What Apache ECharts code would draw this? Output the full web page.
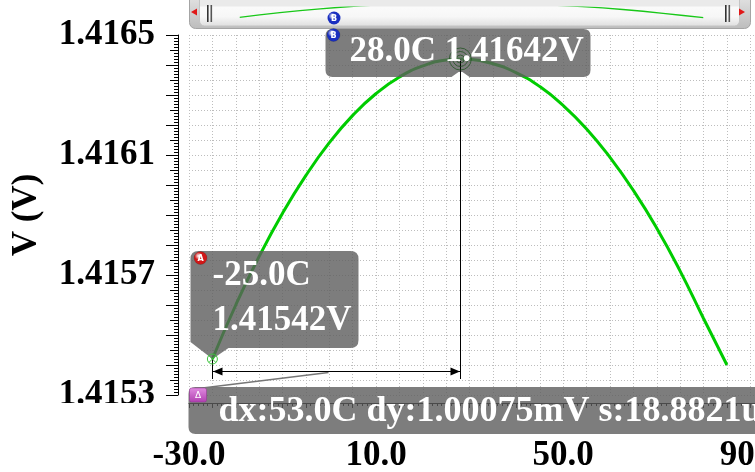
<!DOCTYPE html>
<html><head><meta charset="utf-8">
<script src="https://cdn.jsdelivr.net/npm/echarts@6/dist/echarts.min.js"></script>
<style>html,body{margin:0;padding:0;background:#fff}#c{width:755px;height:472px}</style>
</head><body><div id="c"></div>
<script>
// ---- data ----
const temps = [-25, -20, -15, -10, -5, 0, 5, 10, 15, 20, 25, 28, 30, 35, 40, 45, 50, 55, 60, 65, 70, 75, 80, 85];
const volts = [1.415420, 1.415600, 1.415762, 1.415906, 1.416032, 1.416141, 1.416232, 1.416305, 1.416360, 1.416397, 1.416417, 1.416420,
               1.416419, 1.416404, 1.416374, 1.416328, 1.416265, 1.416187, 1.416092, 1.415982, 1.415856, 1.415713, 1.415555, 1.415400];
const xTickLabels = [-30, 10, 50, 90];
const yTickLabels = [1.4153, 1.4157, 1.4161, 1.4165];
const markerNames = ['A', 'B'];
const markerTemps = [-25.0, 28.0];
const markerVolts = [1.41542, 1.41642];
const markerTextA = ['-25.0C', '1.41542V'];
const markerTextB = '28.0C 1.41642V';
const deltaText = 'dx:53.0C dy:1.00075mV s:18.8821u';
const yTitle = 'V (V)';

const FONT = '"Liberation Serif", "Times New Roman", serif';
const chart = echarts.init(document.getElementById('c'), null, {renderer: 'canvas'});

const curve = temps.map((t, i) => [t, volts[i]]);

function roundRectPath(x0, y0, x1, y1, r, bottomInsert) {
  let p = `M${x0 + r} ${y0} L${x1 - r} ${y0} Q${x1} ${y0} ${x1} ${y0 + r} L${x1} ${y1 - r} Q${x1} ${y1} ${x1 - r} ${y1} `;
  p += bottomInsert ? bottomInsert : '';
  p += `L${x0 + r} ${y1} Q${x0} ${y1} ${x0} ${y1 - r} L${x0} ${y0 + r} Q${x0} ${y0} ${x0 + r} ${y0} Z`;
  return p;
}

function badge(cx, cy, color, letter) {
  return [
    {type: 'circle', shape: {cx: cx, cy: cy, r: 6.5}, style: {fill: {type: 'radial', x: 0.35, y: 0.35, r: 0.8, colorStops: [{offset: 0, color: '#ffffff'}, {offset: 0.35, color: color}, {offset: 1, color: color}]}, stroke: 'rgba(0,0,0,0.3)', lineWidth: 0.5}},
    {type: 'text', style: {x: cx, y: cy + 0.5, text: letter, fill: '#fff', fontSize: 8, fontWeight: 'bold', fontFamily: 'DejaVu Sans', align: 'center', verticalAlign: 'middle'}}
  ];
}

function renderAnnot(params, api) {
  const a = api.coord([api.value(0), api.value(1)]);
  const b = api.coord([api.value(2), api.value(3)]);
  const ax = Math.round(a[0]) + 0.5, ay = a[1];
  const bx = Math.round(b[0]) + 0.5, by = b[1];
  const boxFill = 'rgba(92,92,92,0.8)';
  const ch = [];
  const arrowY = Math.round(ay + 12) + 0.5;

  // A box with tail pointing to marker A
  const ax0 = ax - 22, ay0 = ay - 108, ax1 = ax + 146, ay1 = ay - 11;
  const aPath = `M${ax0 + 8} ${ay0} L${ax1 - 8} ${ay0} Q${ax1} ${ay0} ${ax1} ${ay0 + 8} L${ax1} ${ay1 - 8} Q${ax1} ${ay1} ${ax1 - 8} ${ay1} L${ax + 16} ${ay1} L${ax} ${ay} L${ax0} ${ay1 - 6} L${ax0} ${ay0 + 8} Q${ax0} ${ay0} ${ax0 + 8} ${ay0} Z`;
  ch.push({type: 'path', shape: {pathData: aPath}, style: {fill: boxFill}});

  // B box with notch
  const bx0 = bx - 135, by0 = by - 30, bx1 = bx + 130, by1 = by + 18;
  const notch = `L${bx + 9} ${by1} L${bx + 2} ${by1 - 5} L${bx - 2} ${by1 - 5} L${bx - 9} ${by1} `;
  ch.push({type: 'path', shape: {pathData: roundRectPath(bx0, by0, bx1, by1, 7, notch)}, style: {fill: boxFill}});

  // delta box
  const dx0 = ax - 24, dy0 = ay + 28, dx1 = ax + 600, dy1 = ay + 75;
  ch.push({type: 'path', shape: {pathData: roundRectPath(dx0, dy0, dx1, dy1, 7)}, style: {fill: boxFill}});

  // pointer line from delta box to arrow
  ch.push({type: 'line', shape: {x1: ax - 10, y1: dy0 + 1, x2: (ax + bx) / 2 - 8, y2: arrowY + 1}, style: {stroke: '#777', lineWidth: 1.5}});

  // measurement lines
  ch.push({type: 'line', shape: {x1: bx, y1: by, x2: bx, y2: ay + 20}, style: {stroke: '#000', lineWidth: 1}});
  ch.push({type: 'line', shape: {x1: ax, y1: ay, x2: ax, y2: ay + 20}, style: {stroke: '#000', lineWidth: 1}});
  ch.push({type: 'line', shape: {x1: ax, y1: arrowY, x2: bx, y2: arrowY}, style: {stroke: '#000', lineWidth: 1}});
  ch.push({type: 'polygon', shape: {points: [[ax + 0.5, arrowY], [ax + 10, arrowY - 4], [ax + 10, arrowY + 4]]}, style: {fill: '#000'}});
  ch.push({type: 'polygon', shape: {points: [[bx - 0.5, arrowY], [bx - 10, arrowY - 4], [bx - 10, arrowY + 4]]}, style: {fill: '#000'}});

  // marker A: circle with cross
  ch.push({type: 'circle', shape: {cx: a[0], cy: ay, r: 5}, style: {fill: 'rgba(0,0,0,0)', stroke: '#3cc43c', lineWidth: 1}});
  ch.push({type: 'line', shape: {x1: a[0] - 3.5, y1: ay - 3.5, x2: a[0] + 3.5, y2: ay + 3.5}, style: {stroke: '#3cc43c', lineWidth: 1}});
  ch.push({type: 'line', shape: {x1: a[0] - 3.5, y1: ay + 3.5, x2: a[0] + 3.5, y2: ay - 3.5}, style: {stroke: '#3cc43c', lineWidth: 1}});

  // marker B: concentric rings
  [4, 7.5, 11].forEach(r => ch.push({type: 'circle', shape: {cx: b[0], cy: by, r: r}, style: {fill: 'rgba(0,0,0,0)', stroke: 'rgba(30,80,30,0.75)', lineWidth: 1}}));

  // texts
  const ts = {fill: '#fff', fontSize: 35, fontWeight: 'bold', fontFamily: FONT, verticalAlign: 'middle', align: 'left'};
  ch.push({type: 'text', style: Object.assign({x: ax, y: ay - 83, text: markerTextA[0]}, ts)});
  ch.push({type: 'text', style: Object.assign({x: ax, y: ay - 38, text: markerTextA[1]}, ts)});
  ch.push({type: 'text', style: Object.assign({x: bx - 111, y: by - 7, text: markerTextB}, ts)});
  ch.push({type: 'text', style: Object.assign({}, ts, {x: ax + 6, y: dy0 + 25, text: deltaText, fontSize: 36})});

  // badges
  badge(ax - 12, ay - 101, '#d01818', markerNames[0]).forEach(e => ch.push(e));
  badge(bx - 127, by - 24, '#1a2fc0', markerNames[1]).forEach(e => ch.push(e));
  // delta badge
  ch.push({type: 'rect', shape: {x: dx0 + 1, y: dy0 + 1, width: 17, height: 14, r: 2}, style: {fill: {type: 'linear', x: 0, y: 0, x2: 0, y2: 1, colorStops: [{offset: 0, color: '#e08ae0'}, {offset: 1, color: '#b040b0'}]}, stroke: '#903090', lineWidth: 0.5}});
  ch.push({type: 'text', style: {x: dx0 + 9.5, y: dy0 + 8.5, text: '\u0394', fill: '#fff', fontSize: 9, fontFamily: 'DejaVu Sans', align: 'center', verticalAlign: 'middle'}});

  return {type: 'group', children: ch};
}

const gridColor = '#bdbdbd';
const option = {
  animation: false,
  backgroundColor: '#ffffff',
  grid: {left: 189, right: 0, top: 35, bottom: 77, containLabel: false, outerBoundsMode: 'none'},
  xAxis: [{
    type: 'value', min: -30, max: 91, interval: 5, position: 'bottom', offset: 8,
    axisLine: {show: true, onZero: false, lineStyle: {color: '#000', width: 1}},
    axisTick: {show: true, length: 5, lineStyle: {color: '#000'}},
    minorTick: {show: true, splitNumber: 5, length: 3, lineStyle: {color: '#000'}},
    splitLine: {show: true, lineStyle: {color: gridColor, type: [1, 2], width: 1}},
    axisLabel: {
      margin: 35, color: '#000', fontSize: 35, fontWeight: 'bold', fontFamily: FONT,
      showMinLabel: true, showMaxLabel: true,
      formatter: function (v) {
        const r = Math.round(v);
        return (Math.abs(v - r) < 1e-6 && xTickLabels.indexOf(r) >= 0) ? r.toFixed(1) : '';
      }
    }
  }],
  yAxis: [{
    type: 'value', min: 1.4153, max: 1.4165, interval: 0.00005, position: 'left', offset: 11,
    name: yTitle, nameLocation: 'middle', nameRotate: 90, nameGap: 134,
    nameTextStyle: {color: '#000', fontSize: 35, fontWeight: 'bold', fontFamily: FONT},
    axisLine: {show: true, onZero: false, lineStyle: {color: '#000', width: 1}},
    axisTick: {show: true, length: 8, lineStyle: {color: '#000'}},
    minorTick: {show: true, splitNumber: 5, length: 4, lineStyle: {color: '#000'}},
    splitLine: {show: true, lineStyle: {color: gridColor, type: [1, 2], width: 1}},
    axisLabel: {
      margin: 23, color: '#000', fontSize: 35, fontWeight: 'bold', fontFamily: FONT,
      showMinLabel: true, showMaxLabel: true,
      formatter: function (v) {
        const k = Math.round(v * 1e5);
        return yTickLabels.some(t => Math.round(t * 1e5) === k) ? v.toFixed(4) : '';
      }
    }
  }, {
    type: 'value', min: 1.4153, max: 1.4165, interval: 0.0001, position: 'left', offset: 11,
    axisLine: {show: false, onZero: false}, axisLabel: {show: false}, splitLine: {show: false},
    axisTick: {show: true, length: 12, lineStyle: {color: '#000'}}
  }],
  dataZoom: [{
    type: 'slider', xAxisIndex: 0, filterMode: 'none', start: 0, end: 100, zoomLock: true,
    left: 237, right: 54, top: -1, height: 23,
    showDetail: false, brushSelect: false, realtime: false,
    backgroundColor: 'rgba(0,0,0,0)', borderColor: 'rgba(0,0,0,0)', fillerColor: 'rgba(0,0,0,0)',
    handleSize: 0, handleStyle: {opacity: 0}, moveHandleSize: 0, moveHandleStyle: {opacity: 0},
    dataBackground: {lineStyle: {color: '#19c819', width: 1.3, opacity: 1}, areaStyle: {opacity: 0}},
    selectedDataBackground: {lineStyle: {color: '#19c819', width: 1.3, opacity: 1}, areaStyle: {opacity: 0}},
    emphasis: {handleStyle: {opacity: 0}, moveHandleStyle: {opacity: 0}}
  }],
  graphic: [
    {type: 'rect', z: 1, silent: true, shape: {x: 189.5, y: -6, width: 561, height: 34.5, r: 6},
     style: {fill: {type: 'linear', x: 0, y: 0, x2: 0, y2: 1, colorStops: [{offset: 0, color: '#e6e6e6'}, {offset: 1, color: '#bcbcbc'}]}, stroke: '#a4a4a4', lineWidth: 1}},
    {type: 'rect', z: 2, silent: true, shape: {x: 199.5, y: -6, width: 540, height: 32, r: 5},
     style: {fill: {type: 'linear', x: 0, y: 0, x2: 0, y2: 1, colorStops: [{offset: 0, color: '#ffffff'}, {offset: 0.7, color: '#f7f7f7'}, {offset: 1, color: '#dedede'}]}, stroke: '#c4c4c4', lineWidth: 1}},
    {type: 'rect', z: 10, silent: true, shape: {x: 200, y: -6, width: 539, height: 12.6},
     style: {fill: '#eaeaea'}},
    {type: 'rect', z: 11, silent: true, shape: {x: 207, y: 5, width: 1.6, height: 17}, style: {fill: '#333'}},
    {type: 'rect', z: 11, silent: true, shape: {x: 210.5, y: 5, width: 1.6, height: 17}, style: {fill: '#555'}},
    {type: 'rect', z: 11, silent: true, shape: {x: 725, y: 5, width: 1.6, height: 17}, style: {fill: '#333'}},
    {type: 'rect', z: 11, silent: true, shape: {x: 728.5, y: 5, width: 1.6, height: 17}, style: {fill: '#555'}},
    {type: 'polygon', z: 11, silent: true, shape: {points: [[191, 12], [197, 8.5], [197, 15.5]]}, style: {fill: '#e01818'}},
    {type: 'polygon', z: 11, silent: true, shape: {points: [[745, 12], [739, 8.5], [739, 15.5]]}, style: {fill: '#e01818'}},
    {type: 'circle', z: 12, silent: true, shape: {cx: 334, cy: 18, r: 6.5},
     style: {fill: {type: 'radial', x: 0.35, y: 0.35, r: 0.8, colorStops: [{offset: 0, color: '#ffffff'}, {offset: 0.35, color: '#1a2fc0'}, {offset: 1, color: '#1a2fc0'}]}}},
    {type: 'text', z: 13, silent: true, style: {x: 334, y: 18.5, text: 'B', fill: '#fff', fontSize: 8, fontWeight: 'bold', fontFamily: 'DejaVu Sans', align: 'center', verticalAlign: 'middle'}},
    // the reference's lowest y tick label is cut off at its bottom
    {type: 'rect', z: 50, silent: true, shape: {x: 40, y: 403, width: 130, height: 14}, style: {fill: '#ffffff'}}
  ],
  series: [{
    type: 'line', xAxisIndex: 0, yAxisIndex: 0, data: curve, smooth: 0.5,
    symbol: 'none', lineStyle: {color: '#00cc00', width: 3}, z: 2, clip: false
  }, {
    type: 'custom', xAxisIndex: 0, yAxisIndex: 0, coordinateSystem: 'cartesian2d', clip: false, z: 5,
    data: [[markerTemps[0], markerVolts[0], markerTemps[1], markerVolts[1]]],
    encode: {x: [0, 2], y: [1, 3]},
    renderItem: renderAnnot
  }]
};
chart.setOption(option);
</script>
</body></html>
